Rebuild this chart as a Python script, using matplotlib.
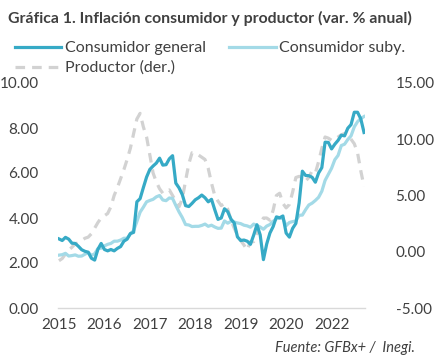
import matplotlib
matplotlib.use("Agg")
import matplotlib.pyplot as plt
import numpy as np

# monthly series, Jan 2015 - Nov 2022
general = [3.07, 3.00, 3.14, 3.06, 2.88, 2.87, 2.74, 2.59, 2.52, 2.48, 2.21, 2.13,
           2.61, 2.87, 2.60, 2.54, 2.60, 2.54, 2.65, 2.73, 2.97, 3.06, 3.31, 3.36,
           4.72, 4.86, 5.35, 5.82, 6.16, 6.31, 6.44, 6.66, 6.35, 6.37, 6.63, 6.77,
           5.55, 5.34, 5.04, 4.55, 4.51, 4.65, 4.81, 4.90, 5.02, 4.90, 4.72, 4.83,
           4.37, 3.94, 4.00, 4.41, 4.28, 3.95, 3.78, 3.16, 3.00, 3.02, 2.97, 2.83,
           3.24, 3.70, 3.25, 2.15, 2.84, 3.33, 3.62, 4.05, 4.01, 4.09, 3.33, 3.15,
           3.54, 3.76, 4.67, 6.08, 5.89, 5.88, 5.81, 5.59, 6.00, 6.24, 7.37, 7.36,
           7.07, 7.28, 7.45, 7.68, 7.65, 7.99, 8.15, 8.70, 8.70, 8.41, 7.80]

subyacente = [2.35, 2.37, 2.43, 2.31, 2.33, 2.36, 2.30, 2.31, 2.39, 2.47, 2.34, 2.41,
              2.64, 2.66, 2.76, 2.83, 2.87, 2.97, 2.97, 3.02, 3.10, 3.10, 3.29, 3.44,
              3.84, 4.26, 4.48, 4.72, 4.78, 4.83, 4.94, 5.00, 4.80, 4.77, 4.89, 4.87,
              4.56, 4.27, 4.02, 3.71, 3.69, 3.62, 3.63, 3.63, 3.67, 3.73, 3.63, 3.68,
              3.60, 3.54, 3.55, 3.87, 3.77, 3.85, 3.82, 3.78, 3.75, 3.68, 3.65, 3.59,
              3.73, 3.66, 3.60, 3.50, 3.64, 3.71, 3.85, 3.97, 3.99, 3.98, 3.66, 3.80,
              3.84, 3.87, 4.12, 4.13, 4.37, 4.58, 4.66, 4.78, 4.92, 5.19, 5.67, 5.94,
              6.21, 6.59, 6.78, 7.22, 7.28, 7.49, 7.65, 8.05, 8.28, 8.42, 8.51]

productor = [-0.8, -0.6, -0.2, 0.15, 0.4, 0.7, 0.8, 1.0, 1.2, 1.3, 1.6, 2.1,
             2.6, 3.0, 3.2, 3.4, 4.0, 5.0, 5.7, 6.5, 7.3, 8.2, 9.2, 10.5,
             11.8, 12.3, 11.1, 10.2, 8.6, 7.0, 6.2, 5.6, 5.2, 5.4, 5.5, 5.0,
             4.5, 4.0, 4.7, 6.3, 7.8, 8.8, 8.8, 8.6, 8.4, 8.2, 7.4, 6.1,
             5.0, 4.5, 4.1, 4.3, 3.8, 2.8, 2.1, 1.5, 1.0, 0.6, 0.15, 0.9,
             0.9, 1.6, 2.4, 3.0, 3.0, 2.8, 3.7, 5.0, 5.2, 4.3, 3.9, 4.2,
             5.3, 6.6, 6.7, 6.6, 6.3, 6.6, 7.2, 7.0, 8.0, 9.2, 10.2, 10.1,
             9.9, 10.0, 10.2, 10.4, 10.5, 10.4, 10.0, 9.6, 8.8, 7.2, 5.8]

tick_pos = [0, 14, 28, 42, 56, 70, 84]
tick_labels = ["2015", "2016", "2017", "2018", "2019", "2020", "2022"]

plt.rcParams['font.family'] = ['Lato', 'DejaVu Sans']
txt = '#404040'
c_gen = '#36AAC6'
c_sub = '#A3DAE7'
c_prod = '#D2D2D2'

x = np.arange(len(general))

fig = plt.figure(figsize=(4.41, 3.62), dpi=100)
ax = fig.add_axes([58/441, 1-308/362, 307/441, 225/362])
ax2 = ax.twinx()

l3, = ax2.plot(x, productor, color=c_prod, lw=2.3, ls=(0, (3, 2.2)), label='Productor (der.)')
l2, = ax.plot(x, subyacente, color=c_sub, lw=2.3, label='Consumidor suby.')
l1, = ax.plot(x, general, color=c_gen, lw=2.3, label='Consumidor general')
ax.set_zorder(ax2.get_zorder() + 1)
ax.patch.set_visible(False)

ax.set_xlim(-0.3, 94.3)
ax.set_ylim(0, 10)
ax2.set_ylim(-5, 15)
ax.set_yticks(np.arange(0, 10.1, 2))
ax.set_yticklabels([f'{v:.2f}' for v in np.arange(0, 10.1, 2)])
ax2.set_yticks(np.arange(-5, 15.1, 5))
ax2.set_yticklabels([f'{v:.2f}' for v in np.arange(-5, 15.1, 5)])
ax.set_xticks(tick_pos)
ax.set_xticklabels(tick_labels)

for a in (ax, ax2):
    for s in ('top', 'right', 'left', 'bottom'):
        a.spines[s].set_visible(False)
    a.tick_params(length=0, labelsize=11, labelcolor=txt)
ax.spines['bottom'].set_visible(True)
ax.spines['bottom'].set_color('#D9D9D9')
ax.spines['bottom'].set_linewidth(1)
ax.tick_params(axis='y', pad=14)
ax.tick_params(axis='x', pad=7)
ax2.tick_params(axis='y', pad=22)

fig.text(8/441, 1-18/362, 'Gráfica 1. Inflación consumidor y productor (var. % anual)',
         fontsize=11.4, fontweight='bold', color=txt, va='center', ha='left')

fig.legend(handles=[l1, l3, l2], ncol=2, loc='upper left',
           bbox_to_anchor=(15/441, 1-41/362), frameon=False, fontsize=11.5,
           handlelength=2.9, handletextpad=0.2, columnspacing=1.5,
           labelspacing=0.35, borderaxespad=0, borderpad=0, labelcolor=txt)

fig.text(415/441, 1-348/362, 'Fuente: GFBx+ /  Inegi.', fontsize=10.5, style='italic',
         color=txt, ha='right', va='center')

fig.savefig('out.png', dpi=100)
